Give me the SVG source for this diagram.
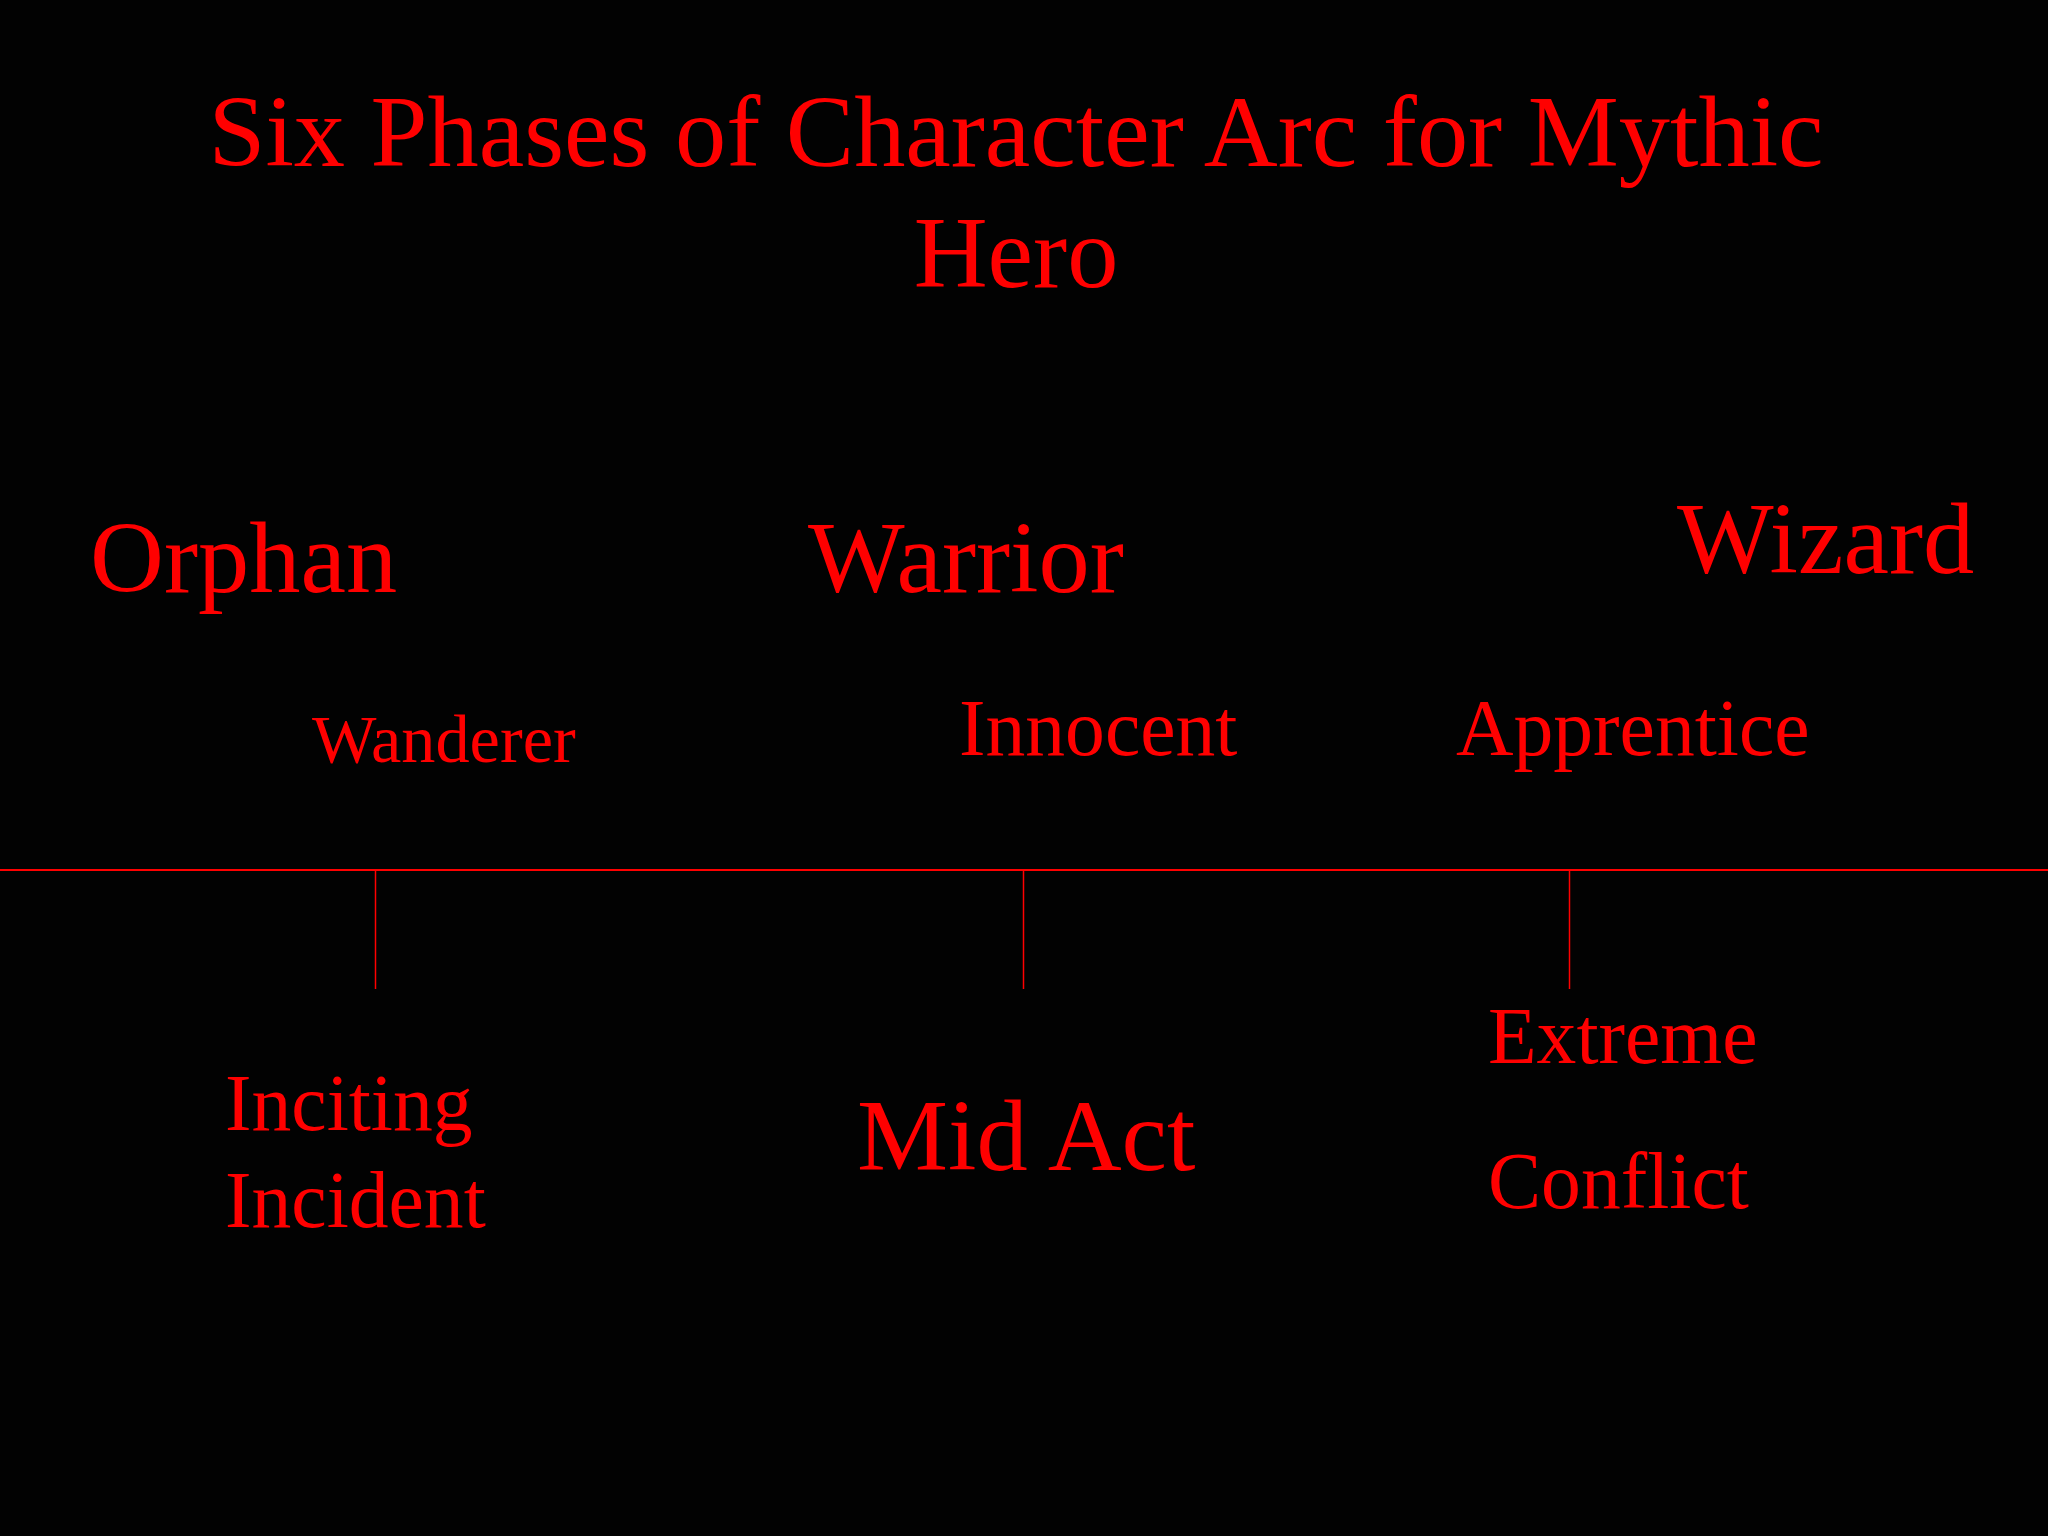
<svg xmlns="http://www.w3.org/2000/svg" width="2048" height="1536" viewBox="0 0 2048 1536">
<style>
text { font-family: "Liberation Serif", "Times New Roman", serif; fill: #ff0000; }
.t { font-size: 102.4px; }
.m { font-size: 79.6px; }
.s { font-size: 68.3px; }
.ln { stroke: #ff0000; fill: none; }
</style>
<rect x="0" y="0" width="2048" height="1536" fill="#020202"/>
<g id="title">
<text class="t" x="1016" y="166" text-anchor="middle">Six Phases of Character Arc for Mythic</text>
<text class="t" x="1016" y="287" text-anchor="middle">Hero</text>
</g>
<g id="connectors">
<line class="ln" x1="0" y1="870" x2="2048" y2="870" stroke-width="2"/>
<line class="ln" x1="375.5" y1="870" x2="375.5" y2="989" stroke-width="1.5"/>
<line class="ln" x1="1023.5" y1="870" x2="1023.5" y2="989" stroke-width="1.5"/>
<line class="ln" x1="1569.5" y1="870" x2="1569.5" y2="989" stroke-width="1.5"/>
</g>
<g id="orphan"><text class="t" x="90" y="592">Orphan</text></g>
<g id="warrior"><text class="t" x="808" y="592">Warrior</text></g>
<g id="wizard"><text class="t" x="1677" y="573">Wizard</text></g>
<g id="wanderer"><text class="s" x="312" y="762">Wanderer</text></g>
<g id="innocent"><text class="m" x="959" y="755">Innocent</text></g>
<g id="apprentice"><text class="m" x="1456" y="755">Apprentice</text></g>
<g id="inciting-incident">
<text class="m" x="225" y="1130">Inciting</text>
<text class="m" x="225" y="1227">Incident</text>
</g>
<g id="mid-act"><text class="t" x="857" y="1170">Mid Act</text></g>
<g id="extreme-conflict">
<text class="m" x="1488" y="1063">Extreme</text>
<text class="m" x="1488" y="1208">Conflict</text>
</g>
</svg>
